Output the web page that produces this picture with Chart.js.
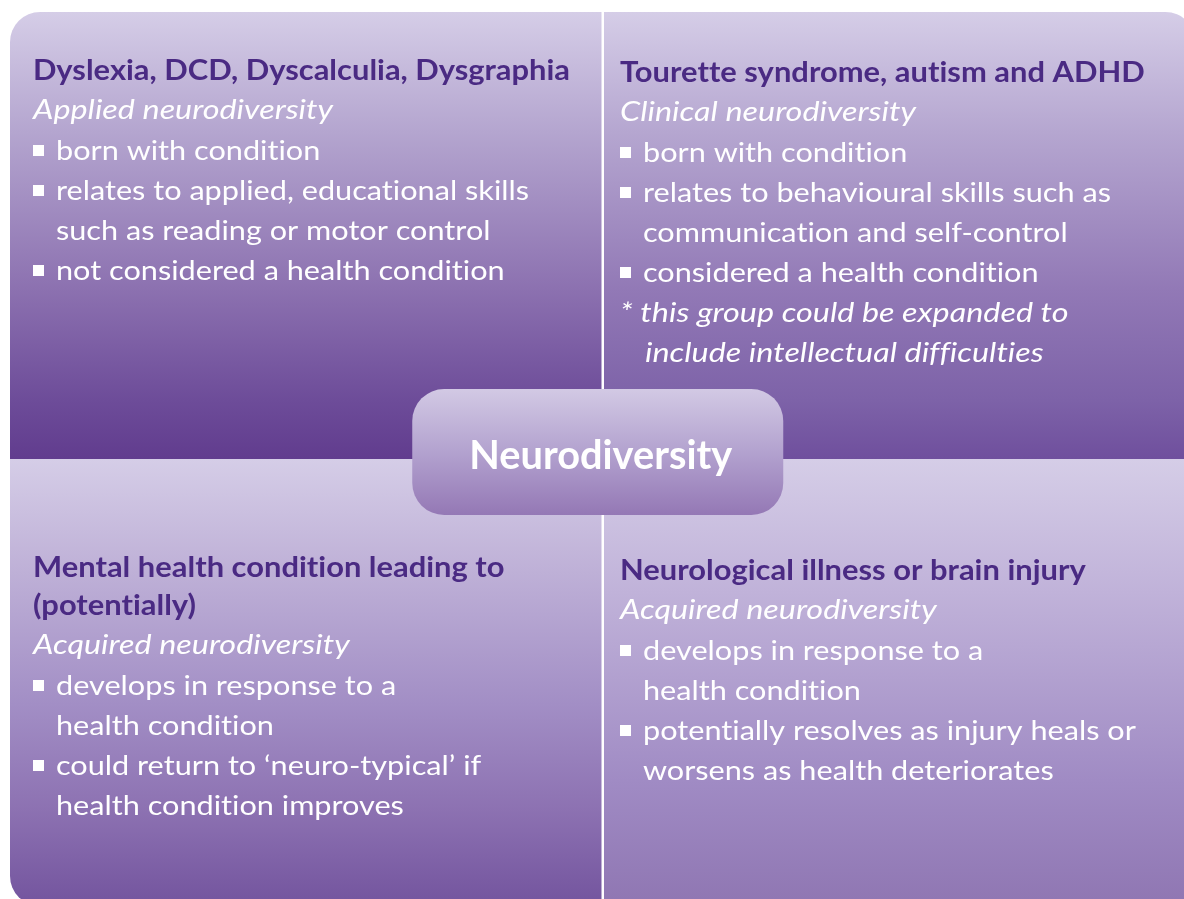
<!DOCTYPE html>
<html>
<head>
<meta charset="utf-8">
<script src="https://cdn.jsdelivr.net/npm/chart.js@4.4.1/dist/chart.umd.min.js"></script>
<style>
  html, body { margin: 0; padding: 0; background: #fff; overflow: hidden; }
  #wrap { width: 1184px; height: 906px; }
  canvas { font-variant-ligatures: none; }
</style>
</head>
<body>
<div id="wrap"><canvas id="chart" width="1184" height="906"></canvas></div>
<script>
// ===== data =====
const quadColumns = [0, 1, 0, 1];   // 0 = left, 1 = right
const quadRows = [1, 1, 0, 0];      // 1 = top row, 0 = bottom row

const titles = [
  ["Dyslexia, DCD, Dyscalculia, Dysgraphia"],
  ["Tourette syndrome, autism and ADHD"],
  ["Mental health condition leading to", "(potentially)"],
  ["Neurological illness or brain injury"]
];
const subtitles = [
  "Applied neurodiversity",
  "Clinical neurodiversity",
  "Acquired neurodiversity",
  "Acquired neurodiversity"
];
const bullets = [
  [["born with condition"], ["relates to applied, educational skills", "such as reading or motor control"], ["not considered a health condition"]],
  [["born with condition"], ["relates to behavioural skills such as", "communication and self-control"], ["considered a health condition"]],
  [["develops in response to a", "health condition"], ["could return to \u2018neuro-typical\u2019 if", "health condition improves"]],
  [["develops in response to a", "health condition"], ["potentially resolves as injury heals or", "worsens as health deteriorates"]]
];
const notes = [
  [],
  ["* this group could be expanded to", "include intellectual difficulties"],
  [],
  []
];
const centreLabel = "Neurodiversity";

// ===== styles =====
const quadGradients = [
  [[0, "#d5cde7"], [0.27, "#b4a5cf"], [0.62, "#8c71b0"], [0.87, "#6d4c99"], [1, "#613c8e"]],
  [[0, "#d5cde7"], [0.27, "#b5a6d0"], [0.62, "#9279b6"], [0.87, "#7d62a8"], [1, "#6f4f9d"]],
  [[0, "#d5cde7"], [0.2, "#c3b6da"], [0.55, "#a28ec5"], [0.78, "#8d72b2"], [1, "#73549e"]],
  [[0, "#d5cde7"], [0.3, "#c0b2d9"], [0.72, "#a08bc4"], [1, "#8f76b2"]]
];
const firstBaseline = [68, 70, 118, 121];   // from top edge of each panel
const textLeft = [23, 16, 23, 16];
const FONT = "Lato, 'Open Sans', sans-serif";
const titleFont = "bold 28px " + FONT;
const bodyFont = "27px " + FONT;
const italicFont = "italic 27px " + FONT;
const centreFont = "bold 40px " + FONT;

function setFont(ctx, font) {
  ctx.font = font;
  // a tiny letter spacing keeps "ti" / "fi" from turning into ligatures
  if ("letterSpacing" in ctx) ctx.letterSpacing = "0.01px";
}

function fitScale(ctx, font, str, target) {
  setFont(ctx, font);
  return target / ctx.measureText(str).width;
}

function drawText(ctx, str, x, y, font, sx, color) {
  ctx.save();
  setFont(ctx, font);
  ctx.fillStyle = color;
  ctx.textBaseline = "alphabetic";
  ctx.translate(x, y);
  ctx.scale(sx, 1);
  ctx.fillText(str, 0, 0);
  ctx.restore();
}

const quadrantPlugin = {
  id: "quadrants",
  afterDatasetsDraw(chart) {
    const ctx = chart.ctx;
    const xs = chart.scales.x, ys = chart.scales.y;
    const gap = 1.25, r = 30;

    const sxTitle = fitScale(ctx, titleFont, titles[0][0], 537);
    const sxBody = fitScale(ctx, bodyFont, bullets[0][1][0], 473);
    const sxItalic = fitScale(ctx, italicFont, subtitles[0], 300);
    const sxCentre = fitScale(ctx, centreFont, centreLabel, 263);

    quadColumns.forEach((col, i) => {
      const row = quadRows[i];
      let x0 = xs.getPixelForValue(col), x1 = xs.getPixelForValue(col + 1);
      const yTop = ys.getPixelForValue(row + 1), yBot = ys.getPixelForValue(row);
      if (col === 0) x1 -= gap; else x0 += gap;

      const g = ctx.createLinearGradient(0, yTop, 0, yBot);
      quadGradients[i].forEach(s => g.addColorStop(s[0], s[1]));
      const radii = [
        col === 0 && row === 1 ? r : 0,
        col === 1 && row === 1 ? r : 0,
        col === 1 && row === 0 ? r : 0,
        col === 0 && row === 0 ? r : 0
      ];
      ctx.save();
      ctx.beginPath();
      ctx.roundRect(x0, yTop, x1 - x0, yBot - yTop, radii);
      ctx.fillStyle = g;
      ctx.fill();
      ctx.restore();

      // texts
      const tx = x0 + textLeft[i];
      let y = yTop + firstBaseline[i];
      titles[i].forEach((t, k) => {
        if (k > 0) y += 38;
        drawText(ctx, t, tx, y, titleFont, sxTitle, "#4a2a83");
      });
      y += 39;
      drawText(ctx, subtitles[i], tx, y, italicFont, sxItalic, "#ffffff");
      y += 41;
      bullets[i].forEach((b, k) => {
        if (k > 0) y += 40;
        ctx.fillStyle = "#ffffff";
        ctx.fillRect(tx, y - 15, 11, 11);
        b.forEach((line, m) => {
          if (m > 0) y += 40;
          drawText(ctx, line, tx + 23, y, bodyFont, sxBody, "#ffffff");
        });
      });
      notes[i].forEach((line, m) => {
        y += 40;
        drawText(ctx, line, tx + (m > 0 ? 25 : 0), y, italicFont, sxItalic, "#ffffff");
      });
    });

    // centre box
    const cx = xs.getPixelForValue(1) - 5, cy = ys.getPixelForValue(1) - 7;
    const w = 371, h = 126;
    const cg = ctx.createLinearGradient(0, cy - h / 2, 0, cy + h / 2);
    cg.addColorStop(0, "#d2c9e4");
    cg.addColorStop(0.5, "#b3a2cf");
    cg.addColorStop(1, "#9478b5");
    ctx.save();
    ctx.beginPath();
    ctx.roundRect(cx - w / 2, cy - h / 2, w, h, 32);
    ctx.fillStyle = cg;
    ctx.fill();
    ctx.restore();
    setFont(ctx, centreFont);
    const cw = ctx.measureText(centreLabel).width * sxCentre;
    drawText(ctx, centreLabel, cx + 3 - cw / 2, cy + 17, centreFont, sxCentre, "#ffffff");
  }
};

new Chart(document.getElementById("chart"), {
  type: "scatter",
  data: {
    datasets: [{
      data: quadColumns.map((c, i) => ({ x: c + 0.5, y: quadRows[i] + 0.5 })),
      pointRadius: 0
    }]
  },
  options: {
    responsive: false,
    devicePixelRatio: 1,
    animation: false,
    layout: { padding: { left: 10, top: 12, right: 0, bottom: 0 } },
    plugins: { legend: { display: false }, tooltip: { enabled: false } },
    scales: {
      x: { type: "linear", min: 0, max: 1.9806, display: false },
      y: { type: "linear", min: 0, max: 2, display: false }
    }
  },
  plugins: [quadrantPlugin]
});
</script>
</body>
</html>
